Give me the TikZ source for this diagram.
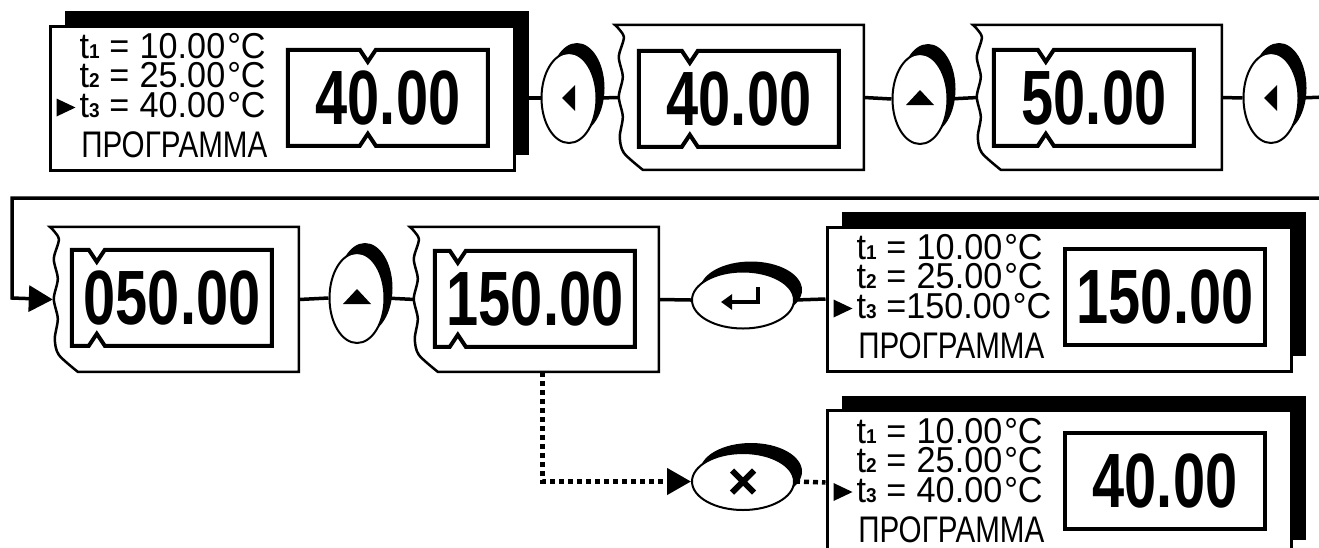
\documentclass[tikz,border=0pt]{standalone}
\usepackage{fontspec}
\setmainfont{Liberation Sans}
\newfontfamily\lcdfont{Liberation Sans}[FakeStretch=0.75]
\newfontfamily\linefont{Liberation Sans}[FakeStretch=0.95]
\newfontfamily\cyrfont{Liberation Sans}[FakeStretch=0.8]
\usetikzlibrary{shapes.geometric,shadows,arrows.meta}

\newcommand{\ix}[1]{{\bfseries\fontsize{20}{20}\selectfont #1}}
\newcommand{\dg}{\kern2pt°}
\newcommand{\tornbox}[2]{%
\node[tornnode] (#1) at (#2) {};
\draw[tornline, shift={(#1.north west)}] plot[smooth] coordinates {(0,0) (9,-12) (4,-32) (8,-52) (4,-72) (8,-92) (5,-112) (9,-128) (28,-145)} -- (249,-145) -- (249,0) -- cycle;
}
\newcommand{\notchframe}[2]{%
\draw[frame, shift={(#1.north west)}] (0,0) -- (#2-8,0) -- (#2,-12) -- (#2+8,0) -- (200,0) -- (200,-96) -- (#2+8,-96) -- (#2,-84) -- (#2-8,-96) -- (0,-96) -- cycle;
}
\newcommand{\lcdtext}[2]{%
\begin{scope}[shift={(#1.north west)}]
\node[lcdline] (#1a) at (31,-34) {\makebox[186pt][l]{t\ix{1} =\hfill 10.00\dg C}};
\node[lcdline] (#1b) at (31,-63) {\makebox[186pt][l]{t\ix{2} =\hfill 25.00\dg C}};
\node[lcdline] (#1c) at (31,-93) {\makebox[186pt][l]{t\ix{3} =\hfill #2\dg C}};
\node[cyrline] (#1d) at (219,-133) {ПРОГРАММА};
\fill (8,-74) -- (27,-83) -- (8,-92) -- cycle;
\end{scope}
}

\begin{document}
\begin{tikzpicture}[x=1pt,y=1pt]
\tikzstyle{every node}+=[inner sep=0pt]
\tikzstyle{lcd}=[draw, line width=3pt, fill=white, minimum width=464pt, minimum height=144pt, drop shadow={shadow xshift=15pt,shadow yshift=15pt,fill=black,opacity=1}]
\tikzstyle{lcdline}=[anchor=base west, font=\linefont\fontsize{36}{36}\selectfont]
\tikzstyle{cyrline}=[anchor=base east, font=\cyrfont\fontsize{37}{37}\selectfont]
\tikzstyle{tornnode}=[minimum width=249pt, minimum height=145pt]
\tikzstyle{tornline}=[line width=2.5pt, fill=white]
\tikzstyle{val}=[minimum width=200pt, minimum height=96pt, font=\lcdfont\bfseries\fontsize{77}{77}\selectfont]
\tikzstyle{valbox}=[val, draw, line width=4pt]
\tikzstyle{frame}=[line width=4pt]
\tikzstyle{key}=[ellipse, draw, line width=2pt, fill=white, minimum width=55pt, minimum height=90pt, drop shadow={shadow xshift=8pt,shadow yshift=10pt,fill=black,opacity=1}]
\tikzstyle{widekey}=[key, minimum width=102pt, minimum height=57pt]
\tikzstyle{wire}=[line width=3.5pt]
\tikzstyle{dots}=[line width=4.5pt, dash pattern=on 5pt off 4pt]
\tikzstyle{bigtip}=[-{Triangle[length=24pt,width=26pt]}]
\useasboundingbox (0,0) rectangle (1319,-547);
\clip (0,0) rectangle (1319,-547);
\node[lcd] (d1) at (282,-98) {};
\lcdtext{d1}{40.00}
\node[val] (d1v) at (388,-98) {40.00};
\notchframe{d1v}{80}
\node[key] (b1) at (569,-98) {};
\fill ([xshift=-7pt]b1.center) -- ++(13,13) -- ++(0,-26) -- cycle;
\tornbox{w2}{739.5,-97.5}
\node[val] (w2v) at (739,-99) {40.00};
\notchframe{w2v}{51}
\node[key] (b2) at (920,-99) {};
\fill ([yshift=9pt]b2.center) -- ++(14,-15) -- ++(-28,0) -- cycle;
\tornbox{w3}{1097.5,-97.5}
\node[val] (w3v) at (1094,-98) {50.00};
\notchframe{w3v}{52}
\node[key] (b3) at (1271,-98) {};
\fill ([xshift=-7pt]b3.center) -- ++(13,13) -- ++(0,-26) -- cycle;
\coordinate (e1) at (1325,-97);
\coordinate (e2) at (1325,-198);
\coordinate (c1) at (12,-298);
\draw[wire] (d1.east) -- (b1.west);
\draw[wire] (b1.east) -- ([xshift=5pt]w2.west);
\draw[wire] (w2.east) -- (b2.west);
\draw[wire] (b2.east) -- ([xshift=5pt]w3.west);
\draw[wire] (w3.east) -- (b3.west);
\draw[wire] (b3.east) -- (e1);
\tornbox{w4}{174.5,-299.5}
\node[val] (w4v) at (172,-298) {050.00};
\notchframe{w4v}{25}
\node[key] (b4) at (357,-298) {};
\fill ([yshift=9pt]b4.center) -- ++(14,-15) -- ++(-28,0) -- cycle;
\tornbox{w5}{534.5,-299.5}
\node[val] (w5v) at (535,-299) {150.00};
\notchframe{w5v}{23}
\node[widekey] (b5) at (743,-300) {};
\draw[line width=4pt, -{Triangle[length=11pt,width=15pt]}] ([shift={(15,13)}]b5.center) |- ([shift={(-22,-2)}]b5.center);
\node[lcd] (d6) at (1059,-299) {};
\lcdtext{d6}{150.00}
\node[valbox] (d6v) at (1165,-297) {150.00};
\node[widekey] (b6) at (743,-481.5) {};
\draw[line width=6pt] ([shift={(-11,-11)}]b6.center) -- ([shift={(11,11)}]b6.center) ([shift={(-11,11)}]b6.center) -- ([shift={(11,-11)}]b6.center);
\node[lcd] (d7) at (1059,-482.5) {};
\lcdtext{d7}{40.00}
\node[valbox] (d7v) at (1165,-481) {40.00};
\draw[wire, bigtip] (e2) -| (c1) -- ([xshift=3pt]w4.west);
\draw[wire] (w4.east) -- (b4.west);
\draw[wire] (b4.east) -- ([xshift=5pt]w5.west);
\draw[wire] (w5.east) -- (b5.west);
\draw[wire] (b5.east) -- (d6.west);
\draw[dots, bigtip] ([xshift=8pt]w5.south) |- (b6.west);
\draw[dots] (b6.east) -- (d7.west);
\end{tikzpicture}
\end{document}
